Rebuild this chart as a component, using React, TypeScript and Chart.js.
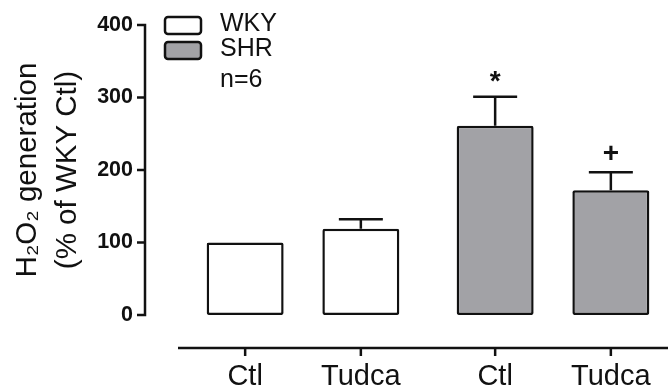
import React, { useEffect, useRef } from 'react';
import { Chart, registerables } from 'chart.js';

Chart.register(...registerables);

// ---- data ----
const GROUPS = ['WKY', 'SHR'];
const TREATMENTS = ['Ctl', 'Tudca'];
const WKY_MEAN = [100, 119];
const WKY_SEM = [0, 13];
const SHR_MEAN = [261, 172];
const SHR_SEM = [40, 25];
const WKY_MARKS = ['', ''];
const SHR_MARKS = ['*', '+'];
const Y_TICKS = [0, 100, 200, 300, 400];
const N_NOTE = 'n=6';
const Y_TITLE = ['H₂O₂ generation', '(% of WKY Ctl)'];

const MEANS = [WKY_MEAN, SHR_MEAN];
const SEMS = [WKY_SEM, SHR_SEM];
const MARKS = [WKY_MARKS, SHR_MARKS];

// ---- style ----
const GROUP_COLORS = ['#ffffff', '#a2a2a6'];
const FONT = "'Liberation Sans', Arial, sans-serif";
const INK = '#111111';
const CAT_PCT = 0.9256;
const BAR_PCT = 0.6655;
const AXIS_GAP = 33;
const LINE_W = 2.5;
const TICK_LEN = 8;
const CAP_HALF = 22;
const MARK_GAP = 20;

const tickValues = GROUPS.flatMap((_, g) =>
  TREATMENTS.map((__, j) => g + ((j - (TREATMENTS.length - 1) / 2) * CAT_PCT) / TREATMENTS.length)
);

const offsetAxes = {
  id: 'offsetAxes',
  afterDraw(chart: any) {
    const { ctx, chartArea, scales } = chart;
    const y = scales.y;
    const xt = scales.xt;
    const ax = chartArea.left - AXIS_GAP;
    const ay = chartArea.bottom + AXIS_GAP;
    ctx.save();
    ctx.strokeStyle = INK;
    ctx.lineWidth = LINE_W;
    ctx.lineCap = 'butt';
    // y axis
    ctx.beginPath();
    const yTop = y.getPixelForValue(y.max);
    const yBot = y.getPixelForValue(y.min);
    ctx.moveTo(ax, yTop - LINE_W / 2);
    ctx.lineTo(ax, yBot + LINE_W / 2);
    Y_TICKS.forEach((v) => {
      const py = y.getPixelForValue(v);
      ctx.moveTo(ax - TICK_LEN, py);
      ctx.lineTo(ax, py);
    });
    ctx.stroke();
    // x axis
    ctx.beginPath();
    ctx.moveTo(chartArea.left, ay);
    ctx.lineTo(chartArea.right, ay);
    ctx.stroke();
    tickValues.forEach((v) => {
      const px = xt.getPixelForValue(v);
      ctx.beginPath();
      ctx.moveTo(px, ay);
      ctx.lineTo(px, ay + TICK_LEN);
      ctx.stroke();
    });
    ctx.restore();
  },
};

const errorBars = {
  id: 'errorBars',
  afterDatasetsDraw(chart: any) {
    const { ctx } = chart;
    const y = chart.scales.y;
    ctx.save();
    ctx.strokeStyle = INK;
    ctx.fillStyle = INK;
    ctx.lineWidth = LINE_W;
    chart.data.datasets.forEach((_: any, j: number) => {
      const meta = chart.getDatasetMeta(j);
      meta.data.forEach((bar: any, g: number) => {
        const sem = SEMS[g][j];
        const mean = MEANS[g][j];
        const capY = y.getPixelForValue(mean + sem);
        if (sem > 0) {
          ctx.beginPath();
          ctx.moveTo(bar.x, bar.y);
          ctx.lineTo(bar.x, capY);
          ctx.moveTo(bar.x - CAP_HALF, capY);
          ctx.lineTo(bar.x + CAP_HALF, capY);
          ctx.stroke();
        }
        const mark = MARKS[g][j];
        if (mark) {
          ctx.font = `bold 28px ${FONT}`;
          ctx.textAlign = 'center';
          ctx.textBaseline = 'alphabetic';
          const m = ctx.measureText(mark);
          const mid = (m.actualBoundingBoxAscent - m.actualBoundingBoxDescent) / 2;
          ctx.fillText(mark, bar.x, capY - MARK_GAP + mid);
        }
      });
    });
    ctx.restore();
  },
};

const LEG_X = 165;
const LEG_Y = 17;
const LEG_ROW = 25;
const LEG_BOX_W = 36;
const LEG_BOX_H = 17;

const groupLegend = {
  id: 'groupLegend',
  afterDraw(chart: any) {
    const { ctx } = chart;
    ctx.save();
    ctx.font = `25px ${FONT}`;
    ctx.textAlign = 'left';
    ctx.textBaseline = 'middle';
    GROUPS.forEach((g, i) => {
      const top = LEG_Y + i * LEG_ROW;
      ctx.beginPath();
      (ctx as any).roundRect(LEG_X, top, LEG_BOX_W, LEG_BOX_H, 3);
      ctx.fillStyle = GROUP_COLORS[i];
      ctx.fill();
      ctx.strokeStyle = INK;
      ctx.lineWidth = LINE_W;
      ctx.stroke();
      ctx.fillStyle = INK;
      ctx.fillText(g, LEG_X + LEG_BOX_W + 19, top + LEG_BOX_H / 2 - 1);
    });
    ctx.fillStyle = INK;
    ctx.fillText(N_NOTE, LEG_X + LEG_BOX_W + 19, LEG_Y + GROUPS.length * LEG_ROW + LEG_BOX_H / 2 + 5);
    ctx.restore();
  },
};

export default function App() {
  const ref = useRef<HTMLCanvasElement>(null);
  useEffect(() => {
    const chart = new Chart(ref.current as HTMLCanvasElement, {
      type: 'bar',
      data: {
        labels: GROUPS,
        datasets: TREATMENTS.map((t, j) => ({
          label: t,
          data: GROUPS.map((_, g) => MEANS[g][j]),
          backgroundColor: GROUP_COLORS,
          borderColor: INK,
          borderWidth: LINE_W,
          borderSkipped: false,
          borderRadius: 2,
          categoryPercentage: CAT_PCT,
          barPercentage: BAR_PCT,
          xAxisID: 'x',
          yAxisID: 'y',
        })),
      },
      options: {
        responsive: false,
        animation: false,
        devicePixelRatio: 1,
        layout: { padding: { top: 25, left: 0, right: 0, bottom: 0 } },
        plugins: { legend: { display: false }, tooltip: { enabled: false } },
        scales: {
          x: { type: 'category', display: false, offset: true },
          xt: {
            type: 'linear',
            position: 'bottom',
            offset: false,
            min: -0.5,
            max: GROUPS.length - 0.5,
            afterBuildTicks: (s: any) => {
              s.ticks = tickValues.map((v) => ({ value: v }));
            },
            afterFit: (s: any) => {
              s.height = 77;
              s.paddingLeft = 0;
              s.paddingRight = 0;
            },
            grid: { display: false, offset: false, drawTicks: true, tickLength: 40 },
            border: { display: false },
            ticks: {
              autoSkip: false,
              maxRotation: 0,
              padding: 5,
              color: INK,
              font: { family: FONT, size: 29 },
              callback: (_v: any, i: number) => TREATMENTS[i % TREATMENTS.length],
            },
          },
          y: {
            type: 'linear',
            min: 0,
            max: 400,
            afterBuildTicks: (s: any) => {
              s.ticks = Y_TICKS.map((v) => ({ value: v }));
            },
            afterFit: (s: any) => {
              s.width = 178;
            },
            grid: { display: false, drawTicks: true, tickLength: 41 },
            border: { display: false },
            ticks: {
              padding: 4,
              color: INK,
              font: { family: FONT, size: 21.5, weight: 'bold' },
            },
            title: {
              display: true,
              text: Y_TITLE,
              color: INK,
              font: { family: FONT, size: 29.5, lineHeight: 1.36 },
              padding: { top: 8, bottom: 0 },
            },
          },
        },
      } as any,
      plugins: [errorBars, offsetAxes, groupLegend],
    });
    return () => chart.destroy();
  }, []);
  return (
    <div
      style={{
        position: 'fixed',
        left: 0,
        top: 0,
        width: 668,
        height: 392,
        overflow: 'hidden',
        background: '#ffffff',
      }}
    >
      <canvas ref={ref} width={678} height={392} style={{ display: 'block' }} />
    </div>
  );
}
